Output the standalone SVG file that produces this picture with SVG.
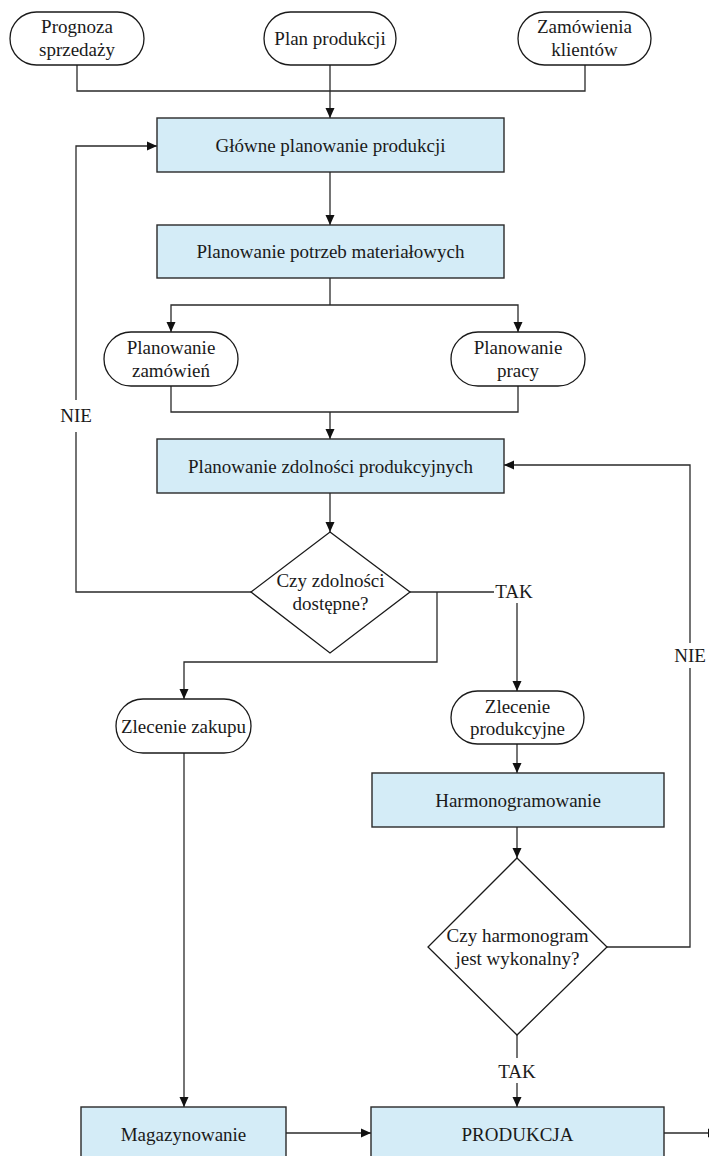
<svg xmlns="http://www.w3.org/2000/svg" width="709" height="1156" viewBox="0 0 709 1156">
  <style>
    .term { fill: #ffffff; stroke: #1a1a1a; stroke-width: 1.3; }
    .proc { fill: #d4ecf7; stroke: #2a2a2a; stroke-width: 1.4; }
    .dec { fill: #ffffff; stroke: #1a1a1a; stroke-width: 1.3; }
    .lbl { font-family: "Liberation Serif", "Times New Roman", Times, Tinos, "Nimbus Roman", "Noto Serif", "DejaVu Serif", FreeSerif, serif; font-size: 19px; fill: #1a1a1a; text-anchor: middle; }
    .wire { fill: none; stroke: #2a2a2a; stroke-width: 1.3; }
    .arrow { marker-end: url(#head); }
  </style>
  <defs>
    <marker id="head" viewBox="0 0 10 10" refX="10" refY="5" markerWidth="10" markerHeight="10" markerUnits="userSpaceOnUse" orient="auto">
      <path d="M0,0.5 L10,5 L0,9.5 Z" fill="#111111"/>
    </marker>
  </defs>
  <rect x="0" y="0" width="709" height="1156" fill="#ffffff"/>

  <!-- connectors -->
  <g id="connectors">
    <!-- inputs into master planning -->
    <polyline class="wire" points="77,65 77,91 585,91 585,65"/>
    <line class="wire arrow" x1="330" y1="65" x2="330" y2="118"/>
    <line class="wire arrow" x1="330" y1="172" x2="330" y2="225"/>
    <!-- split into order / labour planning -->
    <polyline class="wire" points="330,278 330,305"/>
    <polyline class="wire arrow" points="330,305 171,305 171,332"/>
    <polyline class="wire arrow" points="330,305 518,305 518,332"/>
    <!-- merge into capacity planning -->
    <polyline class="wire" points="171,386 171,412 518,412 518,386"/>
    <line class="wire arrow" x1="330" y1="412" x2="330" y2="439"/>
    <line class="wire arrow" x1="330" y1="493" x2="330" y2="532"/>
    <!-- NIE loop back to master planning -->
    <polyline class="wire" points="251,592 76,592 76,432"/>
    <polyline class="wire arrow" points="76,400 76,146 157,146"/>
    <text class="lbl" x="76" y="422">NIE</text>
    <!-- TAK branch to production order -->
    <line class="wire" x1="410" y1="592" x2="494" y2="592"/>
    <text class="lbl" x="514" y="598">TAK</text>
    <line class="wire arrow" x1="517" y1="603" x2="517" y2="691"/>
    <!-- branch to purchase order -->
    <polyline class="wire arrow" points="437,592 437,662 184,662 184,699"/>
    <line class="wire arrow" x1="517" y1="744" x2="517" y2="773"/>
    <line class="wire arrow" x1="517" y1="827" x2="517" y2="858"/>
    <!-- NIE loop back to capacity planning -->
    <polyline class="wire" points="607,947 690,947 690,668"/>
    <polyline class="wire arrow" points="690,643 690,465 504,465"/>
    <text class="lbl" x="690" y="662">NIE</text>
    <!-- TAK to production -->
    <line class="wire" x1="517" y1="1035" x2="517" y2="1058"/>
    <text class="lbl" x="517" y="1078">TAK</text>
    <line class="wire arrow" x1="517" y1="1083" x2="517" y2="1107"/>
    <!-- purchase order to storage, storage to production, output -->
    <line class="wire arrow" x1="184" y1="753" x2="184" y2="1107"/>
    <line class="wire arrow" x1="286" y1="1133" x2="371" y2="1133"/>
    <line class="wire arrow" x1="664" y1="1133" x2="718" y2="1133"/>
  </g>

  <!-- input terminals -->
  <g id="prognoza">
    <rect class="term" x="10" y="12" width="134" height="53" rx="26.5"/>
    <text class="lbl" x="77" y="33">Prognoza</text>
    <text class="lbl" x="77" y="56">sprzedaży</text>
  </g>
  <g id="plan-produkcji">
    <rect class="term" x="264" y="12" width="132" height="53" rx="26.5"/>
    <text class="lbl" x="330" y="45">Plan produkcji</text>
  </g>
  <g id="zamowienia-klientow">
    <rect class="term" x="518" y="12" width="133" height="53" rx="26.5"/>
    <text class="lbl" x="584.5" y="33">Zamówienia</text>
    <text class="lbl" x="584.5" y="56">klientów</text>
  </g>

  <!-- planning steps -->
  <g id="glowne-planowanie">
    <rect class="proc" x="157" y="118" width="347" height="54"/>
    <text class="lbl" x="330.5" y="152">Główne planowanie produkcji</text>
  </g>
  <g id="planowanie-potrzeb">
    <rect class="proc" x="157" y="225" width="347" height="53"/>
    <text class="lbl" x="330.5" y="258">Planowanie potrzeb materiałowych</text>
  </g>
  <g id="planowanie-zamowien">
    <rect class="term" x="104" y="332" width="134" height="54" rx="27"/>
    <text class="lbl" x="171" y="353.5">Planowanie</text>
    <text class="lbl" x="171" y="376.5">zamówień</text>
  </g>
  <g id="planowanie-pracy">
    <rect class="term" x="451" y="332" width="134" height="54" rx="27"/>
    <text class="lbl" x="518" y="353.5">Planowanie</text>
    <text class="lbl" x="518" y="376.5">pracy</text>
  </g>
  <g id="planowanie-zdolnosci">
    <rect class="proc" x="157" y="439" width="347" height="54"/>
    <text class="lbl" x="330.5" y="473">Planowanie zdolności produkcyjnych</text>
  </g>

  <!-- capacity decision -->
  <g id="czy-zdolnosci">
    <polygon class="dec" points="330,532 410,592 330,653 251,592"/>
    <text class="lbl" x="330.5" y="587">Czy zdolności</text>
    <text class="lbl" x="330.5" y="610">dostępne?</text>
  </g>

  <!-- orders -->
  <g id="zlecenie-zakupu">
    <rect class="term" x="116" y="699" width="135" height="54" rx="27"/>
    <text class="lbl" x="183.5" y="733">Zlecenie zakupu</text>
  </g>
  <g id="zlecenie-produkcyjne">
    <rect class="term" x="451" y="691" width="133" height="53" rx="26.5"/>
    <text class="lbl" x="517.5" y="712.5">Zlecenie</text>
    <text class="lbl" x="517.5" y="735">produkcyjne</text>
  </g>

  <!-- scheduling -->
  <g id="harmonogramowanie">
    <rect class="proc" x="372" y="773" width="292" height="54"/>
    <text class="lbl" x="518" y="807">Harmonogramowanie</text>
  </g>
  <g id="czy-harmonogram">
    <polygon class="dec" points="517,858 607,947 517,1035 428,947"/>
    <text class="lbl" x="517.5" y="942">Czy harmonogram</text>
    <text class="lbl" x="517.5" y="965">jest wykonalny?</text>
  </g>

  <!-- execution -->
  <g id="magazynowanie">
    <rect class="proc" x="81" y="1107" width="205" height="60"/>
    <text class="lbl" x="183.5" y="1141">Magazynowanie</text>
  </g>
  <g id="produkcja">
    <rect class="proc" x="371" y="1107" width="293" height="60"/>
    <text class="lbl" x="517.5" y="1141">PRODUKCJA</text>
  </g>
</svg>
